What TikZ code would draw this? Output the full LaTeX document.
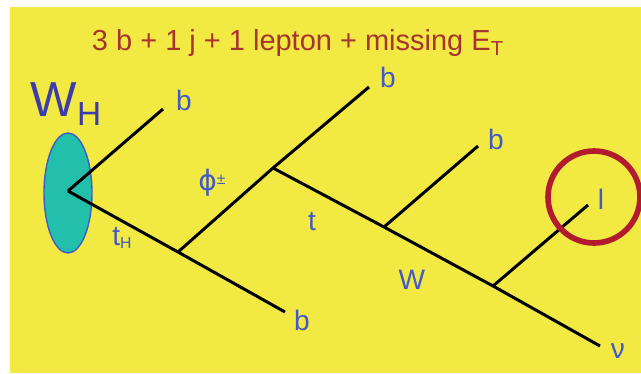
\documentclass[tikz,border=0pt]{standalone}
\usepackage{fontspec}
\setmainfont{Liberation Sans}
\newfontfamily\dejavu{DejaVu Sans}
\usetikzlibrary{positioning}

\definecolor{bgyellow}{RGB}{242,234,66}
\definecolor{labelblue}{RGB}{66,90,200}
\definecolor{darkblue}{RGB}{60,60,170}
\definecolor{titlered}{RGB}{168,52,48}
\definecolor{blobteal}{RGB}{34,192,170}
\definecolor{ringred}{RGB}{178,26,46}

\begin{document}
\begin{tikzpicture}[x=0.02cm, y=-0.02cm,
    leg/.style={line width=1.7pt, black},
    lbl/.style={text=labelblue, inner sep=0pt, font=\fontsize{16}{16}\selectfont}]
  \useasboundingbox (0,0) rectangle (641,373);
  \fill[white] (0,0) rectangle (641,373);
  \fill[bgyellow] (10,7) rectangle (641,373);

  \node[text=titlered, font=\fontsize{16.5}{16.5}\selectfont] (title) at (298,43)
    {3 b + 1 j + 1 lepton + missing E\textsubscript{T}};

  % the W_H blob
  \draw[fill=blobteal, draw=labelblue, line width=0.8pt] (68,193) ellipse [x radius=24, y radius=60];
  \node[text=darkblue, inner sep=0pt, font=\fontsize{28}{28}\selectfont] (wh) at (66,104)
    {W\raisebox{-0.35ex}{\fontsize{19}{19}\selectfont H}};

  % vertices
  \coordinate (v0) at (68,191);
  \coordinate (v1) at (178,252);
  \coordinate (v2) at (273,168);
  \coordinate (v3) at (384,227);
  \coordinate (v4) at (493,286);
  % outgoing ends
  \coordinate (e1) at (163,109);
  \coordinate (e2) at (285,312);
  \coordinate (e3) at (369,87);
  \coordinate (e4) at (478,146);
  \coordinate (e5) at (588,205);
  \coordinate (e6) at (600,346);

  \draw[leg] (v0) -- (e1);
  \draw[leg] (v0) -- (v1) -- (e2);
  \draw[leg] (v1) -- (v2) -- (e3);
  \draw[leg] (v2) -- (v3) -- (v4) -- (e6);
  \draw[leg] (v3) -- (e4);
  \draw[leg] (v4) -- (e5);

  % labels
  \node[lbl] (b1) at (184,100) {b};
  \node[lbl] (b2) at (302,320) {b};
  \node[lbl] (b3) at (388,77) {b};
  \node[lbl] (b4) at (496,139) {b};
  \node[lbl] (lep) at (601,199) {l};
  \node[lbl] (nu) at (618,351) {ν};
  \node[lbl] (phi) at (212,183) {{\dejavu ϕ}\raisebox{0.45ex}{\fontsize{9}{9}\selectfont ±}};
  \node[lbl] (th) at (122,238) {t\raisebox{-0.2ex}{\fontsize{9}{9}\selectfont H}};
  \node[lbl] (top) at (312,222) {t};
  \node[lbl] (wb) at (412,280) {W};

  % ring round the lepton
  \draw[ringred, line width=3.2pt] (594,197) circle [radius=46];
\end{tikzpicture}
\end{document}
